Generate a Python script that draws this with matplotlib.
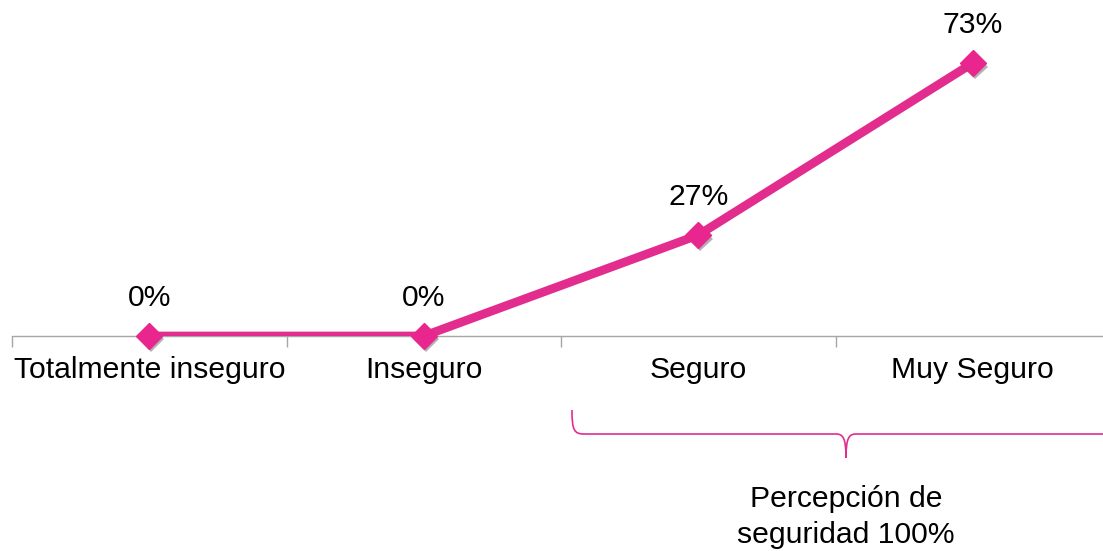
import matplotlib
matplotlib.use("Agg")
import matplotlib.pyplot as plt
import matplotlib.patheffects as pe
from matplotlib.path import Path
from matplotlib.patches import PathPatch

categorias = ["Totalmente inseguro", "Inseguro", "Seguro", "Muy Seguro"]
valores = [0, 0, 27, 73]
etiquetas = ["0%", "0%", "27%", "73%"]
texto_llave = "Percepción de\nseguridad 100%"

rosa = "#E22D8F"
plt.rcParams["font.family"] = ["Liberation Sans", "DejaVu Sans"]

fig = plt.figure(figsize=(11.03, 5.51), dpi=100)
W, H = 1103, 551
# axes: x from 12px to 1110px, y 0 at 336px
ax = fig.add_axes([12 / W, (H - 336) / H, 1098 / W, 326 / H])
x = list(range(len(categorias)))

ax.plot(x, valores, color=rosa, lw=6.3, solid_capstyle="butt", zorder=3)
ax.plot(x, valores, ls="none", marker="D", ms=13, color="#E8268E", mec="#E8268E",
        zorder=4, clip_on=False,
        path_effects=[pe.SimplePatchShadow(offset=(1.5, -2.5), shadow_rgbFace="#555555", alpha=0.45),
                      pe.Normal()])

for xi, v, t in zip(x, valores, etiquetas):
    ax.annotate(t, (xi, v), xytext=(0, 27.5), textcoords="offset points",
                ha="center", va="center", fontsize=21.7, color="black")

ax.set_xlim(-0.5, len(categorias) - 0.5)
ax.set_ylim(0, 87.2)
ax.set_xticks([i - 0.5 for i in range(len(categorias) + 1)])
ax.set_xticklabels([])
ax.set_xticks(x, minor=True)
ax.set_xticklabels(categorias, minor=True, fontsize=21.7)
ax.tick_params(axis="x", which="major", length=8, color="#A6A6A6", width=1)
ax.tick_params(axis="x", which="minor", length=0, pad=14.5)
ax.set_yticks([])
for s in ["top", "right", "left"]:
    ax.spines[s].set_visible(False)
ax.spines["bottom"].set_color("#A6A6A6")
ax.spines["bottom"].set_linewidth(1)

# llave (bracket) in pixel coords
def px(xp, yp):
    return (xp / W, (H - yp) / H)

verts = [px(572, 410), px(572, 430), px(574, 434), px(584, 434),
         px(836, 434),
         px(843, 434), px(846, 438), px(846, 458),
         px(846, 438), px(849, 434), px(856, 434),
         px(1110, 434)]
codes = [Path.MOVETO, Path.CURVE4, Path.CURVE4, Path.CURVE4,
         Path.LINETO,
         Path.CURVE4, Path.CURVE4, Path.CURVE4,
         Path.CURVE4, Path.CURVE4, Path.CURVE4,
         Path.LINETO]
fig.patches.append(PathPatch(Path(verts, codes), transform=fig.transFigure,
                             fill=False, ec=rosa, lw=1.2))

fig.text(846 / W, (H - 517) / H, texto_llave, ha="center", va="center",
         fontsize=21.7, linespacing=1.33)

fig.savefig("out.png", dpi=100)
